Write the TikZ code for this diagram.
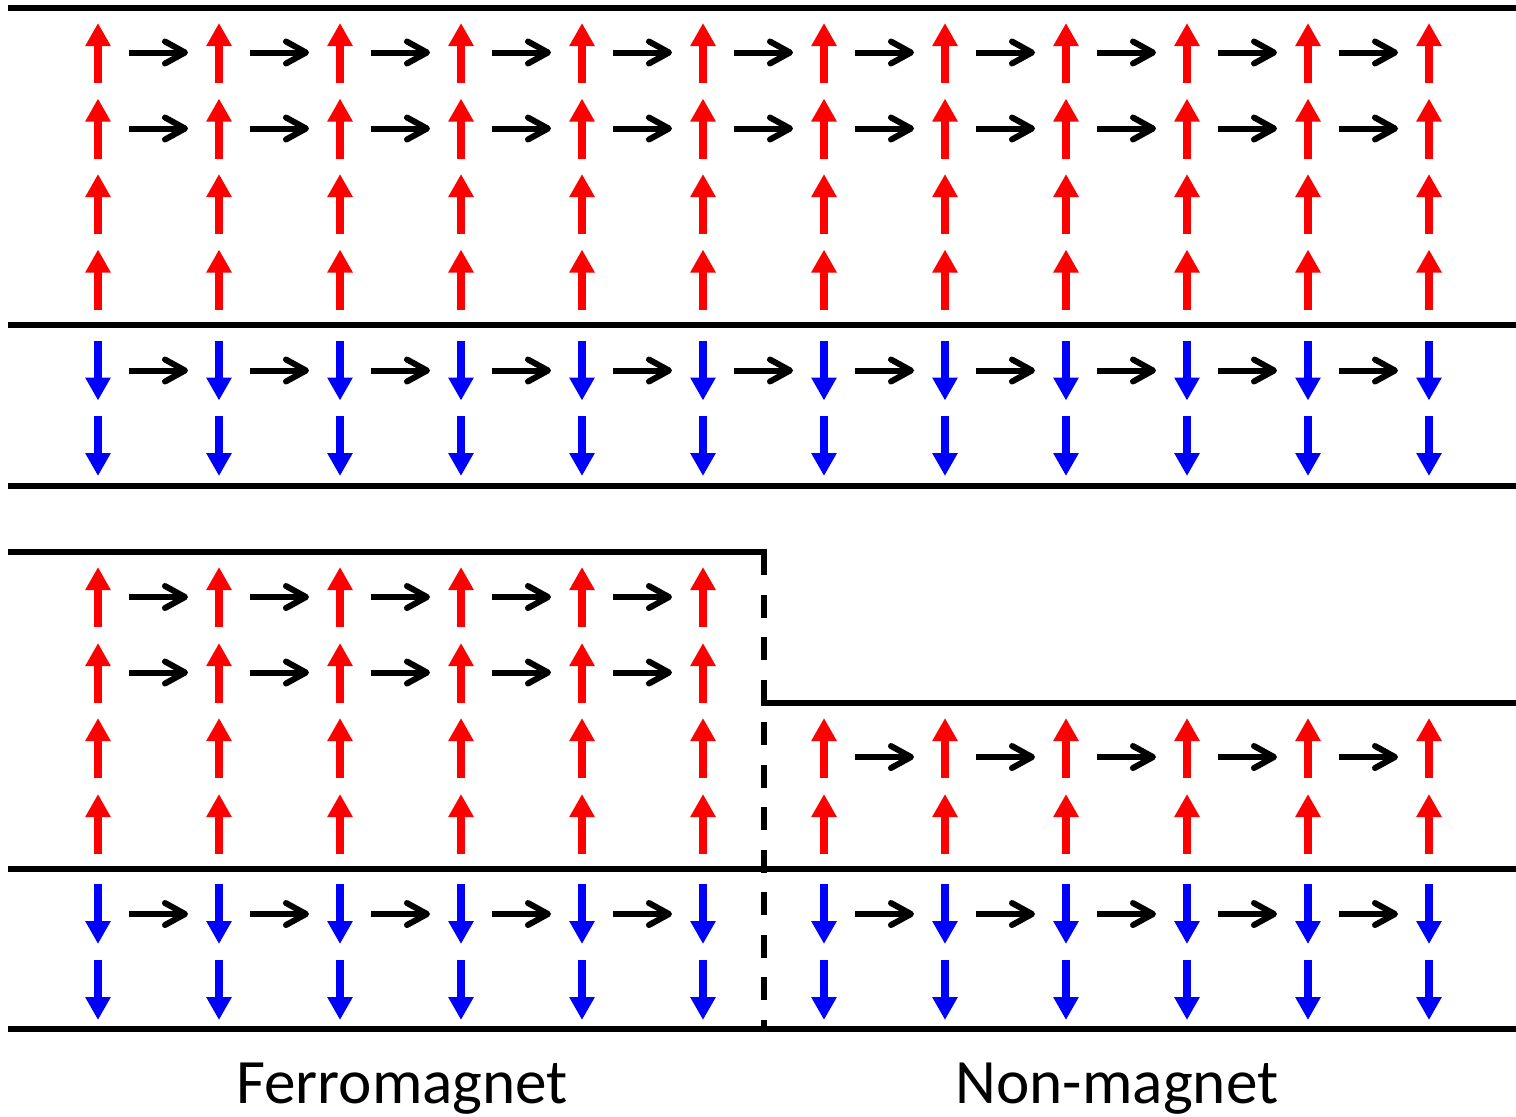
\documentclass[tikz,border=0pt]{standalone}
\usepackage{fontspec}
\setmainfont{Carlito}
\usetikzlibrary{arrows.meta}
\begin{document}
\begin{tikzpicture}[x=0.5pt,y=-0.5pt,
  layer/.style={line width=3pt, black},
  iface/.style={line width=3pt, black, dash pattern=on 11.5pt off 9.75pt},
  spinup/.style={line width=4pt, red, -{Triangle[length=11.5pt,width=12pt]}},
  spindown/.style={line width=4pt, blue, -{Triangle[length=11.5pt,width=12pt]}},
  hop/.style={line width=3pt, black, -{Straight Barb[round,length=10pt,width=11pt]}},
  lbl/.style={font=\fontsize{31.6}{32}\selectfont, anchor=base}]
\useasboundingbox (0,0) rectangle (1516,1116);

% layer boundaries
\draw[layer] (8,8) -- (1516,8);
\draw[layer] (8,324.5) -- (1516,324.5);
\draw[layer] (8,485.5) -- (1516,485.5);
\draw[layer] (8,552) -- (766.5,552);
\draw[layer] (760.5,703) -- (1516,703);
\draw[layer] (8,869) -- (1516,869);
\draw[layer] (8,1029) -- (1516,1029);
\draw[iface] (763.5,552) -- (763.5,1029);

% top structure: majority spins
\foreach \i in {0,...,11} {
  \pgfmathsetmacro\xx{98+121*\i}
  \foreach \c in {53,128.5,204,279.5} {
    \draw[spinup] (\xx,\c+30) -- (\xx,\c-30);
  }
  \foreach \c in {370.5,446} {
    \draw[spindown] (\xx,\c-30) -- (\xx,\c+30);
  }
}
\foreach \i in {0,...,10} {
  \pgfmathsetmacro\xx{98+121*\i}
  \foreach \r in {52.5,128.5,370.5} {
    \draw[hop] (\xx+31,\r) -- (\xx+90,\r);
  }
}

% bottom structure: ferromagnet (left)
\foreach \i in {0,...,5} {
  \pgfmathsetmacro\xx{98+121*\i}
  \foreach \c in {597,673,748,824} {
    \draw[spinup] (\xx,\c+30) -- (\xx,\c-30);
  }
  \foreach \c in {914,990} {
    \draw[spindown] (\xx,\c-30) -- (\xx,\c+30);
  }
}
\foreach \i in {0,...,4} {
  \pgfmathsetmacro\xx{98+121*\i}
  \foreach \r in {597,672.5,914} {
    \draw[hop] (\xx+31,\r) -- (\xx+90,\r);
  }
}

% bottom structure: non-magnet (right)
\foreach \i in {6,...,11} {
  \pgfmathsetmacro\xx{98+121*\i}
  \foreach \c in {748,824} {
    \draw[spinup] (\xx,\c+30) -- (\xx,\c-30);
  }
  \foreach \c in {914,990} {
    \draw[spindown] (\xx,\c-30) -- (\xx,\c+30);
  }
}
\foreach \i in {6,...,10} {
  \pgfmathsetmacro\xx{98+121*\i}
  \foreach \r in {757,914} {
    \draw[hop] (\xx+31,\r) -- (\xx+90,\r);
  }
}

\node[lbl] (fm) at (402,1103) {Ferromagnet};
\node[lbl] (nm) at (1117,1103) {Non-magnet};
\end{tikzpicture}
\end{document}
